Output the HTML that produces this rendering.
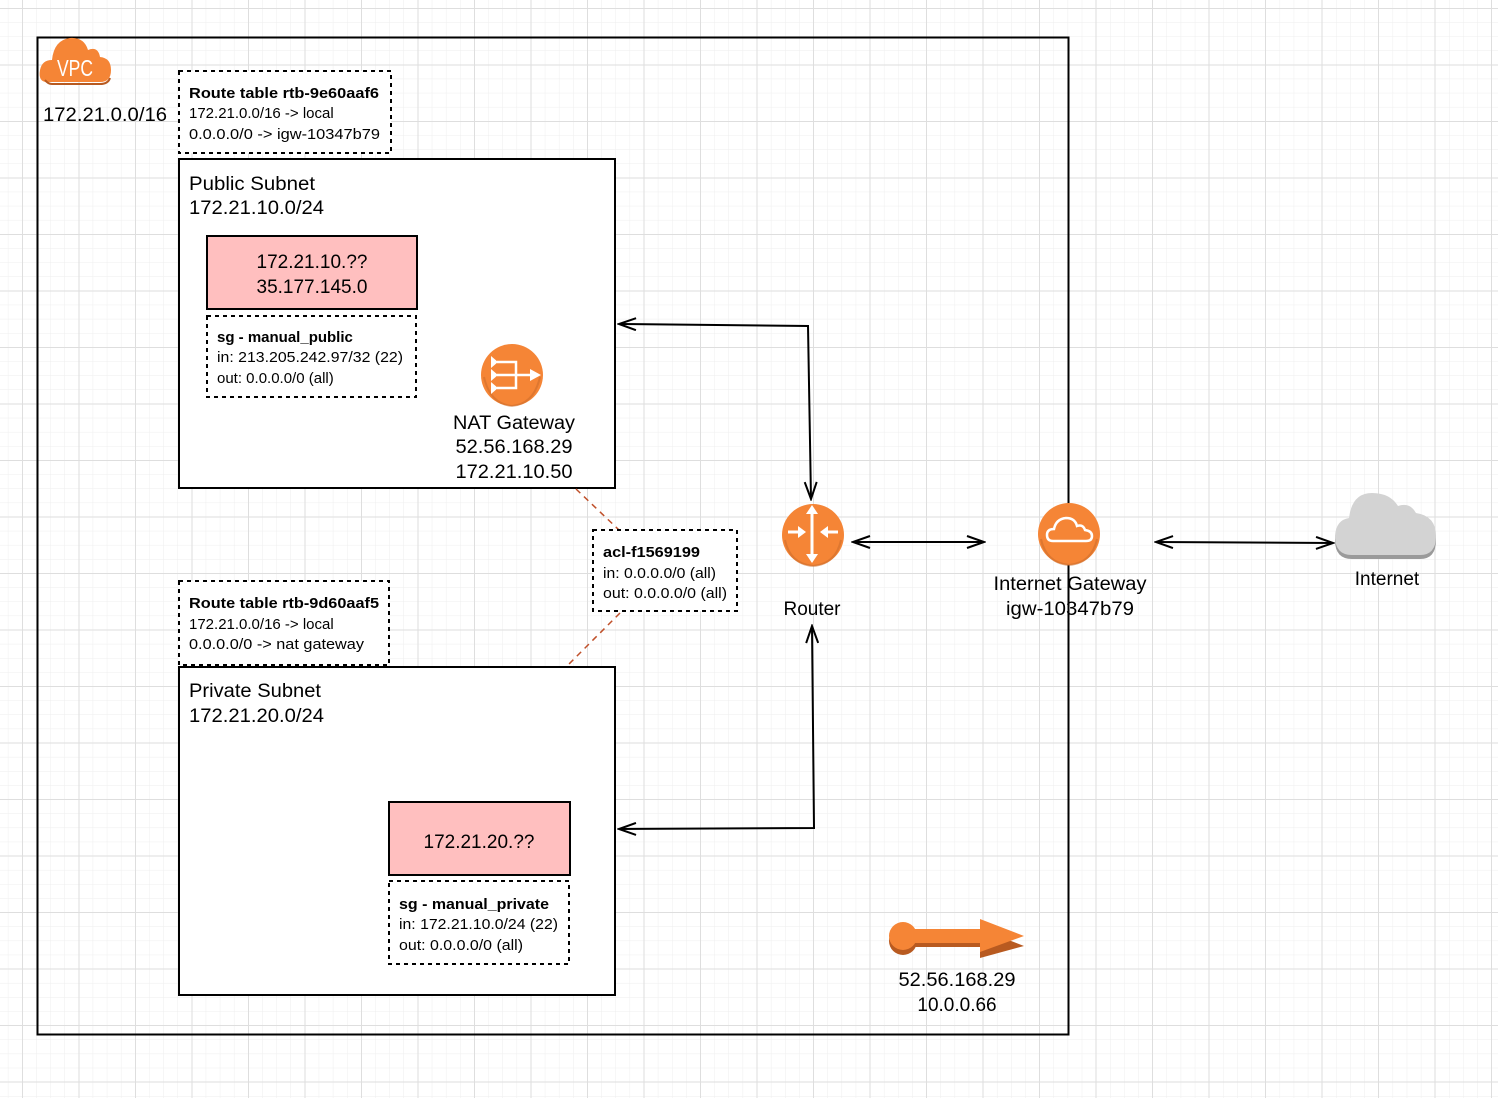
<!DOCTYPE html>
<html><head><meta charset="utf-8"><style>
html,body{margin:0;padding:0;background:#fff}
svg{display:block}
text{font-family:"Liberation Sans",sans-serif;fill:#000}
</style></head><body>
<svg width="1498" height="1098" viewBox="0 0 1498 1098" xmlns="http://www.w3.org/2000/svg">
<defs>
<pattern id="minor" width="14.13" height="14.13" patternUnits="userSpaceOnUse" x="22" y="8">
<path d="M0 0H14.13M0 0V14.13" stroke="#eeeeee" stroke-width="1" fill="none"/>
</pattern>
<pattern id="major" width="56.5" height="56.5" patternUnits="userSpaceOnUse" x="22" y="8">
<path d="M0 0.5H56.5M0.5 0V56.5" stroke="#dedede" stroke-width="1" fill="none"/>
</pattern>
<marker id="ah" markerWidth="20" markerHeight="14" refX="18" refY="7" orient="auto-start-reverse" markerUnits="userSpaceOnUse">
<path d="M1 1L18 7L1 13" fill="none" stroke="#000" stroke-width="2"/>
</marker>
</defs>
<rect width="1498" height="1098" fill="url(#minor)"/>
<rect width="1498" height="1098" fill="url(#major)"/>

<!-- VPC -->
<rect x="37.5" y="37.5" width="1031" height="997" fill="none" stroke="#000" stroke-width="2"/>
<path d="M47 82 Q38 82 40 70 Q42 60 52 60 Q54 40 70 38 Q84 37 88 50 Q98 46 100 57 Q111 58 111 70 Q111 82 100 82 Z" fill="#f58536"/>
<path d="M45 80 Q48 84 52 84 H100 Q108 84 110 78" fill="none" stroke="#b85a20" stroke-width="2"/>
<text x="75" y="76" font-size="23" text-anchor="middle" style="fill:#fff" textLength="36" lengthAdjust="spacingAndGlyphs">VPC</text>
<text x="43" y="121" font-size="19" textLength="124" lengthAdjust="spacingAndGlyphs">172.21.0.0/16</text>

<!-- route table 1 -->
<rect x="179" y="71" width="212" height="82" fill="#fff" stroke="#000" stroke-width="2" stroke-dasharray="4,4"/>
<text x="189" y="98" font-size="15" font-weight="bold" textLength="190" lengthAdjust="spacingAndGlyphs">Route table rtb-9e60aaf6</text>
<text x="189" y="118" font-size="15">172.21.0.0/16 -&gt; local</text>
<text x="189" y="139" font-size="15" textLength="191" lengthAdjust="spacingAndGlyphs">0.0.0.0/0 -&gt; igw-10347b79</text>

<!-- public subnet -->
<rect x="179" y="159" width="436" height="329" fill="#fff" stroke="#000" stroke-width="2"/>
<text x="189" y="190" font-size="19" textLength="126" lengthAdjust="spacingAndGlyphs">Public Subnet</text>
<text x="189" y="214" font-size="19" textLength="135" lengthAdjust="spacingAndGlyphs">172.21.10.0/24</text>
<rect x="207" y="236" width="210" height="73" fill="#ffbfbf" stroke="#000" stroke-width="2"/>
<text x="312" y="268" font-size="19" text-anchor="middle">172.21.10.??</text>
<text x="312" y="293" font-size="19" text-anchor="middle">35.177.145.0</text>
<rect x="207" y="316" width="209" height="81" fill="#fff" stroke="#000" stroke-width="2" stroke-dasharray="4,4"/>
<text x="217" y="342" font-size="15" font-weight="bold">sg - manual_public</text>
<text x="217" y="362" font-size="15" textLength="186" lengthAdjust="spacingAndGlyphs">in: 213.205.242.97/32 (22)</text>
<text x="217" y="383" font-size="15">out: 0.0.0.0/0 (all)</text>

<!-- NAT -->
<circle cx="512" cy="375" r="31" fill="#f58536"/>
<path d="M484 377 Q490 404 512 406 Q534 404 540 377" fill="none" stroke="#c8692a" stroke-width="2" opacity=".5"/>
<g stroke="#fff" stroke-width="2.5" fill="none">
<path d="M497 362H516V388H497M497 375H530"/>
</g>
<path d="M530 369L541 375L530 381Z" fill="#fff"/>
<path d="M491 356L498 362L491 368Z M491 369L498 375L491 381Z M491 382L498 388L491 394Z" fill="#fff"/>
<text x="514" y="429" font-size="19" text-anchor="middle" textLength="122" lengthAdjust="spacingAndGlyphs">NAT Gateway</text>
<text x="514" y="453" font-size="19" text-anchor="middle" textLength="117" lengthAdjust="spacingAndGlyphs">52.56.168.29</text>
<text x="514" y="478" font-size="19" text-anchor="middle" textLength="117" lengthAdjust="spacingAndGlyphs">172.21.10.50</text>

<!-- acl dashed connectors -->
<path d="M576 489L619 530M620 613L567 666" stroke="#c0502a" stroke-width="1.5" stroke-dasharray="6,5" fill="none"/>
<rect x="593" y="530" width="144" height="81" fill="#fff" stroke="#000" stroke-width="2" stroke-dasharray="4,4"/>
<text x="603" y="557" font-size="15" font-weight="bold" textLength="97" lengthAdjust="spacingAndGlyphs">acl-f1569199</text>
<text x="603" y="578" font-size="15" textLength="113" lengthAdjust="spacingAndGlyphs">in: 0.0.0.0/0 (all)</text>
<text x="603" y="598" font-size="15" textLength="124" lengthAdjust="spacingAndGlyphs">out: 0.0.0.0/0 (all)</text>

<!-- route table 2 -->
<rect x="179" y="581" width="210" height="84" fill="#fff" stroke="#000" stroke-width="2" stroke-dasharray="4,4"/>
<text x="189" y="608" font-size="15" font-weight="bold" textLength="190" lengthAdjust="spacingAndGlyphs">Route table rtb-9d60aaf5</text>
<text x="189" y="629" font-size="15">172.21.0.0/16 -&gt; local</text>
<text x="189" y="649" font-size="15" textLength="175" lengthAdjust="spacingAndGlyphs">0.0.0.0/0 -&gt; nat gateway</text>

<!-- private subnet -->
<rect x="179" y="667" width="436" height="328" fill="#fff" stroke="#000" stroke-width="2"/>
<text x="189" y="697" font-size="19" textLength="132" lengthAdjust="spacingAndGlyphs">Private Subnet</text>
<text x="189" y="722" font-size="19" textLength="135" lengthAdjust="spacingAndGlyphs">172.21.20.0/24</text>
<rect x="389" y="802" width="181" height="73" fill="#ffbfbf" stroke="#000" stroke-width="2"/>
<text x="479" y="848" font-size="19" text-anchor="middle">172.21.20.??</text>
<rect x="389" y="881" width="180" height="83" fill="#fff" stroke="#000" stroke-width="2" stroke-dasharray="4,4"/>
<text x="399" y="909" font-size="15" font-weight="bold" textLength="150" lengthAdjust="spacingAndGlyphs">sg - manual_private</text>
<text x="399" y="929" font-size="15" textLength="159" lengthAdjust="spacingAndGlyphs">in: 172.21.10.0/24 (22)</text>
<text x="399" y="950" font-size="15" textLength="124" lengthAdjust="spacingAndGlyphs">out: 0.0.0.0/0 (all)</text>

<!-- connectors -->
<path d="M619 324L808 326L811 499" fill="none" stroke="#000" stroke-width="2" marker-start="url(#ah)" marker-end="url(#ah)"/>
<path d="M619 829L814 828L812 626" fill="none" stroke="#000" stroke-width="2" marker-start="url(#ah)" marker-end="url(#ah)"/>
<path d="M853 542H984" fill="none" stroke="#000" stroke-width="2" marker-start="url(#ah)" marker-end="url(#ah)"/>
<path d="M1156 542L1333 543" fill="none" stroke="#000" stroke-width="2" marker-start="url(#ah)" marker-end="url(#ah)"/>

<!-- router -->
<circle cx="813" cy="535" r="31" fill="#f58536"/>
<path d="M785 540 Q790 564 813 566 Q836 564 841 540" fill="none" stroke="#c8692a" stroke-width="2" opacity=".5"/>
<g stroke="#fff" stroke-width="3" fill="none"><path d="M812 512V556M788 532H800M826 532H838"/></g>
<path d="M806 514L812 505L818 514Z M806 554L812 563L818 554Z M798 526L806 532L798 538Z M828 526L820 532L828 538Z" fill="#fff"/>
<text x="812" y="615" font-size="19" text-anchor="middle">Router</text>

<!-- IGW -->
<circle cx="1069" cy="534" r="31" fill="#f58536"/>
<path d="M1041 539 Q1046 563 1069 565 Q1092 563 1097 539" fill="none" stroke="#c8692a" stroke-width="2" opacity=".5"/>
<path d="M1053 541 Q1047 541 1047 535 Q1047 529 1054 529 Q1056 519 1066 518 Q1075 518 1077 526 Q1083 524 1085 530 Q1092 531 1092 536 Q1092 541 1086 541 Z" fill="none" stroke="#fff" stroke-width="2.5"/>
<text x="1070" y="590" font-size="19" text-anchor="middle" textLength="153" lengthAdjust="spacingAndGlyphs">Internet Gateway</text>
<text x="1070" y="615" font-size="19" text-anchor="middle" textLength="128" lengthAdjust="spacingAndGlyphs">igw-10347b79</text>

<!-- internet cloud -->
<path d="M1352 559 Q1335 559 1335 540 Q1336 524 1349 522 Q1352 497 1372 495 Q1390 495 1398 510 Q1410 506 1416 517 Q1436 520 1436 540 Q1436 559 1420 559 Z" fill="#9a9a9a"/>
<path d="M1352 555 Q1335 555 1335 536 Q1336 520 1349 518 Q1352 493 1372 493 Q1390 493 1398 506 Q1410 502 1416 513 Q1436 516 1436 536 Q1436 555 1420 555 Z" fill="#d3d3d3"/>
<text x="1387" y="585" font-size="19" text-anchor="middle">Internet</text>

<!-- orange arrow -->
<path d="M903 942H980V953L1024 941L980 924V935H903Z" fill="#b85a20" transform="translate(0,5)"/>
<circle cx="903" cy="941" r="14" fill="#b85a20"/>
<path d="M903 929H980V919L1024 936L980 952V943H903Z" fill="#f58536"/>
<circle cx="903" cy="936" r="14" fill="#f58536"/>
<text x="957" y="986" font-size="19" text-anchor="middle" textLength="117" lengthAdjust="spacingAndGlyphs">52.56.168.29</text>
<text x="957" y="1011" font-size="19" text-anchor="middle">10.0.0.66</text>
</svg>
</body></html>
